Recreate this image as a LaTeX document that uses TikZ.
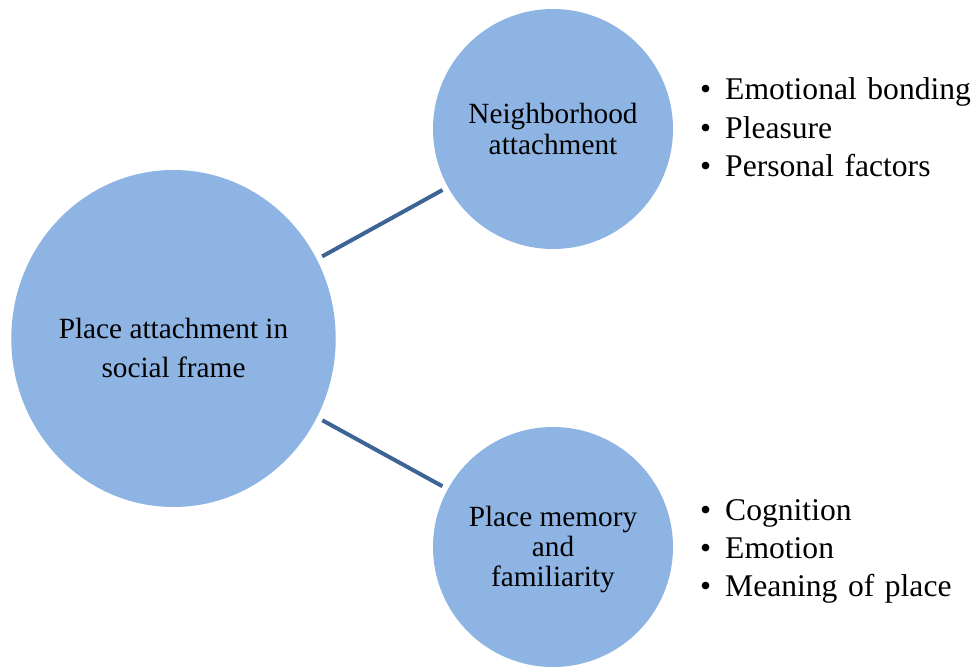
\documentclass[tikz,border=0pt]{standalone}
\usepackage{fontspec}
\setmainfont{Liberation Serif}
\usetikzlibrary{shapes.geometric}
\definecolor{bubbleBlue}{RGB}{142,180,227}
\definecolor{linkBlue}{RGB}{62,100,150}
\newcommand{\listdot}{\makebox[25pt][l]{\textbullet}}
\tikzset{
  bubble/.style={circle,fill=bubbleBlue,align=center,text=black,minimum size=240pt,inner sep=0pt},
  link/.style={line width=4pt,draw=linkBlue,shorten <=6pt,shorten >=6pt},
  bullets/.style={align=left,text width=330pt,anchor=base west,inner sep=0pt,font=\fontsize{31.6}{38.3}\selectfont}
}
\begin{document}
\begin{tikzpicture}[x=1pt,y=-1pt]
  \useasboundingbox (0,0) rectangle (976,666);
  % three bubbles
  \node[bubble,ellipse,minimum width=321pt,minimum height=337pt,text height=78pt,font=\fontsize{29.3}{39}\selectfont] (social) at (173.5,338.5) {Place attachment in\\social frame};
  \node[bubble,font=\fontsize{29.3}{31.6}\selectfont] (neigh) at (553,129) {Neighborhood\\attachment};
  \node[bubble,text height=86pt,font=\fontsize{29.3}{30}\selectfont] (memory) at (553,547) {Place memory\\and\\familiarity};
  \draw[link] (social) -- (neigh);
  \draw[link] (social) -- (memory);
  % bullet lists
  \node[bullets] (neighlist) at (700,100) {\listdot Emotional bonding\\\listdot Pleasure\\\listdot Personal factors};
  \node[bullets] (memorylist) at (700,520) {\listdot Cognition\\\listdot Emotion\\\listdot Meaning of place};
\end{tikzpicture}
\end{document}
